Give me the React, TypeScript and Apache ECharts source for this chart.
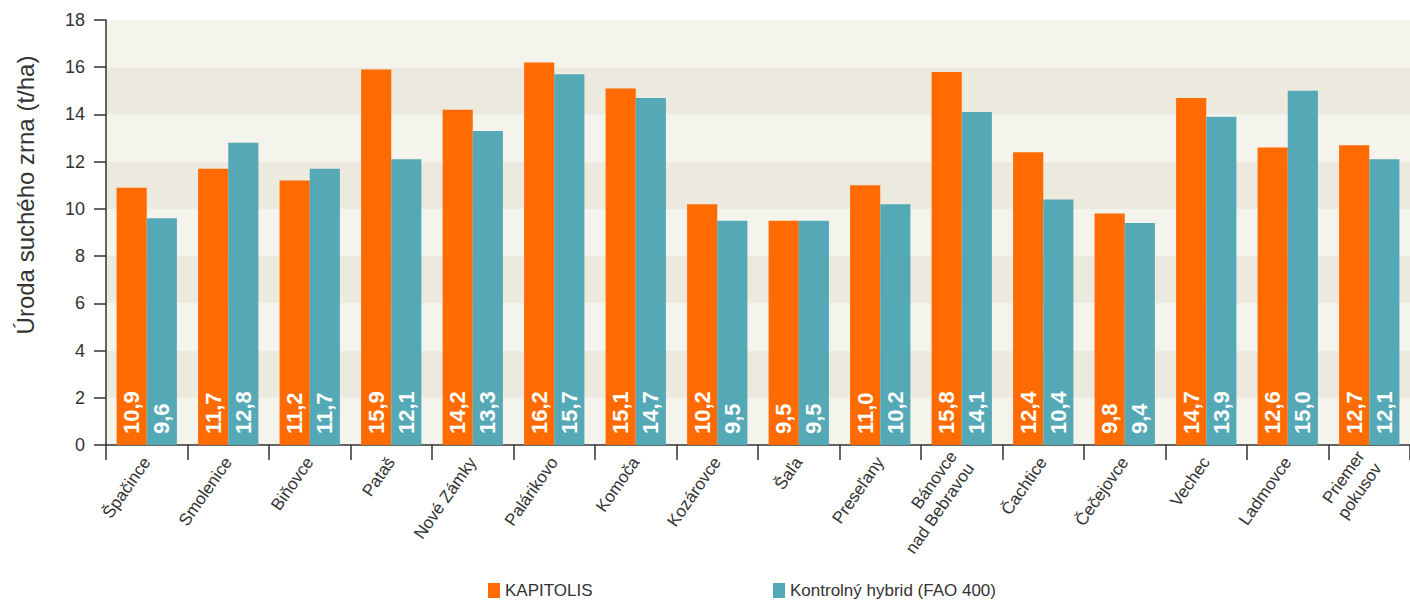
import React, { useEffect, useRef } from "react";
import * as echarts from "echarts";

const categories = [
  "Špačince", "Smolenice", "Biňovce", "Pataš", "Nové Zámky", "Palárikovo",
  "Komoča", "Kozárovce", "Šaľa", "Preseľany", "Bánovce\nnad Bebravou",
  "Čachtice", "Čečejovce", "Vechec", "Ladmovce", "Priemer\npokusov",
];
const kapitolis = [10.9, 11.7, 11.2, 15.9, 14.2, 16.2, 15.1, 10.2, 9.5, 11.0, 15.8, 12.4, 9.8, 14.7, 12.6, 12.7];
const kontrolny = [9.6, 12.8, 11.7, 12.1, 13.3, 15.7, 14.7, 9.5, 9.5, 10.2, 14.1, 10.4, 9.4, 13.9, 15.0, 12.1];
const seriesNames = ["KAPITOLIS", "Kontrolný hybrid (FAO 400)"];
const yAxisTitle = "Úroda suchého zrna (t/ha)";

const FONT = "Liberation Sans, Arial, sans-serif";
const ORANGE = "#ff6b00";
const TEAL = "#55a9b6";

export default function App() {
  const ref = useRef<HTMLDivElement>(null);
  useEffect(() => {
    document.body.style.margin = "0";
    const chart = echarts.init(ref.current!, undefined, { renderer: "svg" });
    const label = {
      show: true,
      position: "insideBottom",
      rotate: 90,
      align: "left",
      verticalAlign: "middle",
      distance: 11,
      color: "#fff",
      fontWeight: "bold",
      fontSize: 22,
      fontFamily: FONT,
      formatter: (p: any) => p.value.toFixed(1).replace(".", ","),
    };
    const legendText = { fontSize: 17, color: "#333", fontFamily: FONT };
    chart.setOption({
      animation: false,
      textStyle: { fontFamily: FONT },
      grid: { left: 106, top: 20, right: 0, bottom: 157, containLabel: false },
      legend: [
        {
          data: [seriesNames[0]],
          left: 488, top: 582, padding: 0,
          itemWidth: 12, itemHeight: 15, itemGap: 5,
          icon: "rect",
          textStyle: legendText,
        },
        {
          data: [seriesNames[1]],
          left: 773, top: 582, padding: 0,
          itemWidth: 12, itemHeight: 15, itemGap: 5,
          icon: "rect",
          textStyle: legendText,
        },
      ],
      xAxis: {
        type: "category",
        data: categories,
        axisLine: { lineStyle: { color: "#333", width: 1.5 } },
        axisTick: { show: true, length: 15, lineStyle: { color: "#333", width: 1.5 } },
        axisLabel: { rotate: 55, fontSize: 17, color: "#333", margin: 14, fontFamily: FONT, lineHeight: 21 },
      },
      yAxis: {
        type: "value",
        min: 0, max: 18, interval: 2,
        axisLine: { show: true, lineStyle: { color: "#333", width: 1.5 } },
        axisTick: { show: true, length: 12, lineStyle: { color: "#333", width: 1.5 } },
        axisLabel: { fontSize: 18, color: "#333", margin: 21, fontFamily: FONT },
        splitLine: { show: false },
        splitArea: { show: true, areaStyle: { color: ["#f4f3ec", "#ece9de"] } },
      },
      graphic: [
        {
          type: "text",
          x: 25, y: 195,
          rotation: Math.PI / 2,
          style: {
            text: yAxisTitle,
            fontSize: 24,
            fill: "#333",
            fontFamily: FONT,
            align: "center",
            verticalAlign: "middle",
          },
        },
      ],
      series: [
        {
          name: seriesNames[0], type: "bar", data: kapitolis,
          itemStyle: { color: ORANGE },
          barGap: "0%", barCategoryGap: "26%",
          label,
        },
        {
          name: seriesNames[1], type: "bar", data: kontrolny,
          itemStyle: { color: TEAL },
          barGap: "0%", barCategoryGap: "26%",
          label,
        },
      ],
    });
    return () => chart.dispose();
  }, []);
  return <div ref={ref} style={{ width: 1410, height: 602 }} />;
}
